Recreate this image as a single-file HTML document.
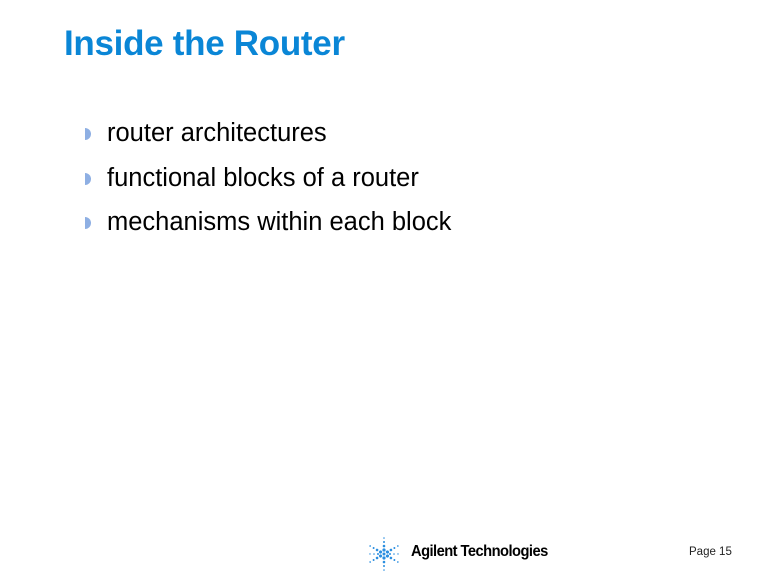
<!DOCTYPE html>
<html><head><style>
body{margin:0;width:768px;height:576px;background:#fff;position:relative;overflow:hidden;font-family:"Liberation Sans",sans-serif}
.t{position:absolute;left:64px;top:24px;font-size:35px;font-weight:bold;color:#0a86d6;letter-spacing:-0.3px}
.b{position:absolute;left:107px;font-size:25.5px;color:#000}
.d{position:absolute;left:85px;width:6px;height:12px;background:#8eafe3;border-radius:0 6px 6px 0}
.logo{position:absolute;left:411px;top:543px;font-size:16px;font-weight:bold;letter-spacing:-0.6px;transform:scaleX(0.92);transform-origin:left}
.pg{position:absolute;left:689px;top:546px;font-size:11.5px;color:#222}
</style></head><body>
<div class="t">Inside the Router</div>
<div class="d" style="top:128px"></div><div class="b" style="top:119px">router architectures</div>
<div class="d" style="top:173px"></div><div class="b" style="top:164px">functional blocks of a router</div>
<div class="d" style="top:217px"></div><div class="b" style="top:208px">mechanisms within each block</div>
<svg style="position:absolute;left:364px;top:534px" width="40" height="40" viewBox="-20 -20 40 40">
<g fill="#2a8ee0">
<circle r="1.5" cx="0" cy="0"/>
<g id="r"><circle cx="0" cy="-4" r="1.6"/><circle cx="0" cy="-8" r="1.3"/><circle cx="0" cy="-12" r="1"/><circle cx="0" cy="-16" r="0.8"/></g>
<use href="#r" transform="rotate(60)"/><use href="#r" transform="rotate(120)"/><use href="#r" transform="rotate(180)"/><use href="#r" transform="rotate(240)"/><use href="#r" transform="rotate(300)"/>
<circle cx="-6" cy="0" r="1"/><circle cx="6" cy="0" r="1"/><circle cx="-10" cy="0" r="0.8"/><circle cx="10" cy="0" r="0.8"/><circle cx="-14" cy="0" r="0.7"/><circle cx="14" cy="0" r="0.7"/>
</g></svg>
<div class="logo">Agilent Technologies</div>
<div class="pg">Page 15</div>
</body></html>
